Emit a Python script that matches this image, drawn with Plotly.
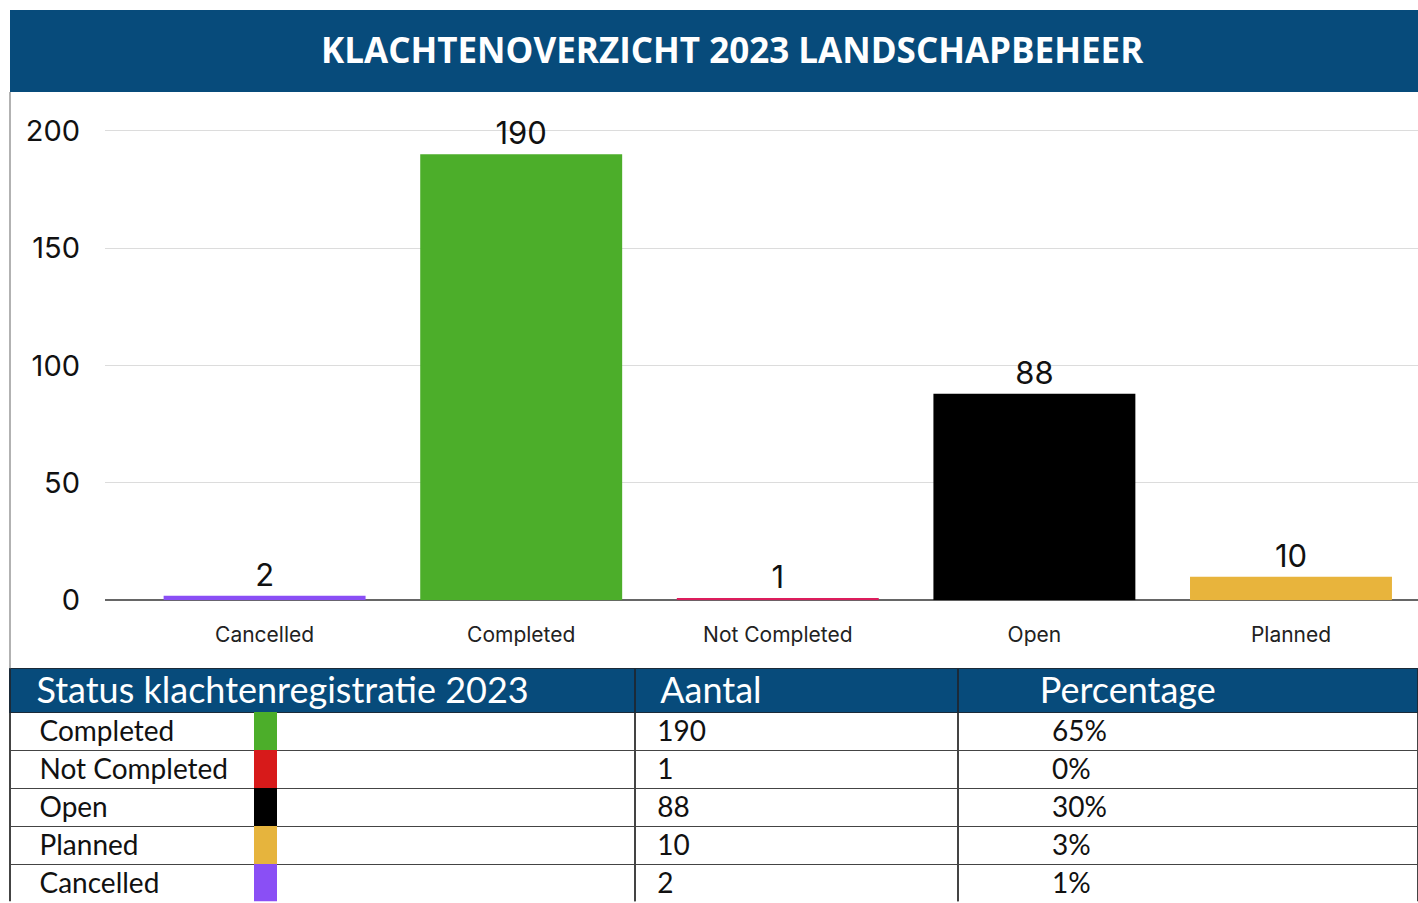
import plotly.graph_objects as go

# chart data (bar order)
categories = ["Cancelled", "Completed", "Not Completed", "Open", "Planned"]
counts = [2, 190, 1, 88, 10]
bar_colors = ["#8a4ff5", "#4cae2a", "#dc1d5c", "#000000", "#e8b43c"]
y_ticks = [0, 50, 100, 150, 200]

# table data (table order)
table_status = ["Completed", "Not Completed", "Open", "Planned", "Cancelled"]
table_count = [190, 1, 88, 10, 2]
table_pct = [65, 0, 30, 3, 1]
swatch_colors = ["#4cae2a", "#d71a1a", "#000000", "#e6b43d", "#8a4ff5"]
table_header = ["Status klachtenregistratie 2023", "Aantal", "Percentage"]

title = "KLACHTENOVERZICHT 2023 LANDSCHAPBEHEER"
navy = "#074b7b"

# positions below are in screen pixels of the 1418x903 view
W, H = 1418, 903
FIG_H = 919  # rendered page shows the figure about 16px shorter than asked


def px(X):
    return X / W


def py(Y):
    return 1 - Y / H


nb = "\u00a0"

fig = go.Figure()

fig.add_trace(go.Bar(
    x=categories, y=counts,
    marker=dict(color=bar_colors, line_width=0),
    texttemplate="%{y}", textposition="outside",
    textfont=dict(size=31, color="#111", family="Inter"),
    cliponaxis=False, showlegend=False,
))

fig.add_trace(go.Table(
    domain=dict(x=[px(10), 1], y=[0, py(669)]),
    columnwidth=[625, 323, 460],
    header=dict(
        values=[nb * 2 + table_header[0], nb * 2 + table_header[1], nb * 8 + table_header[2]],
        fill_color=navy, line=dict(color="#1b2a38", width=1.5),
        font=dict(color="white", size=36, family="Lato"),
        align="left", height=44,
    ),
    cells=dict(
        values=[[nb * 3 + s for s in table_status],
                [nb * 2 + str(c) for c in table_count],
                [nb * 12 + f"{p}%" for p in table_pct]],
        fill_color="white", line=dict(color="#444", width=1.5),
        font=dict(color="#111", size=28, family="Lato"),
        align="left", height=38,
    ),
))

# colour swatches in the first column (transparent header so the title text shows)
fig.add_trace(go.Table(
    domain=dict(x=[px(254), px(277)], y=[0, py(669)]),
    columnwidth=[1],
    header=dict(values=[""], fill_color="rgba(0,0,0,0)", line=dict(width=0), height=44),
    cells=dict(values=[[""] * len(swatch_colors)], fill_color=[swatch_colors],
               line=dict(width=0), height=38),
))

fig.update_layout(
    width=W, height=FIG_H,
    margin=dict(l=0, r=0, t=0, b=0),
    paper_bgcolor="white", plot_bgcolor="white",
    bargap=0.213,
    xaxis=dict(domain=[px(105), 1], range=[-0.622, 4.495],
               tickfont=dict(size=21, color="#222", family="Inter"),
               ticklabelstandoff=20, showgrid=False, showline=False),
    yaxis=dict(domain=[py(601), py(100)], range=[0, (601 - 100) / 2.35],
               tickvals=y_ticks, tickfont=dict(size=29, color="#111", family="Inter"),
               gridcolor="#dcdcdc", gridwidth=1,
               zeroline=True, zerolinecolor="#666", zerolinewidth=1.5,
               ticklabelstandoff=24, showline=False),
    shapes=[
        dict(type="rect", xref="paper", yref="paper",
             x0=px(10), x1=1, y0=py(92), y1=py(10),
             fillcolor=navy, line_width=0, layer="below"),
        dict(type="line", xref="paper", yref="paper",
             x0=px(10), x1=px(10), y0=py(669), y1=py(92),
             line=dict(color="#999", width=1.5)),
    ],
    annotations=[
        dict(text=title, x=px(732), y=py(50), xref="paper", yref="paper",
             xanchor="center", yanchor="middle", showarrow=False,
             font=dict(size=35, color="white", family="Open Sans", weight="bold"))
    ],
)

fig.write_html(
    "out.html",
    config={"displayModeBar": False},
    post_script="document.body.style.margin='0px';"
                "document.documentElement.style.overflow='hidden';"
                "document.body.style.overflow='hidden';",
)
